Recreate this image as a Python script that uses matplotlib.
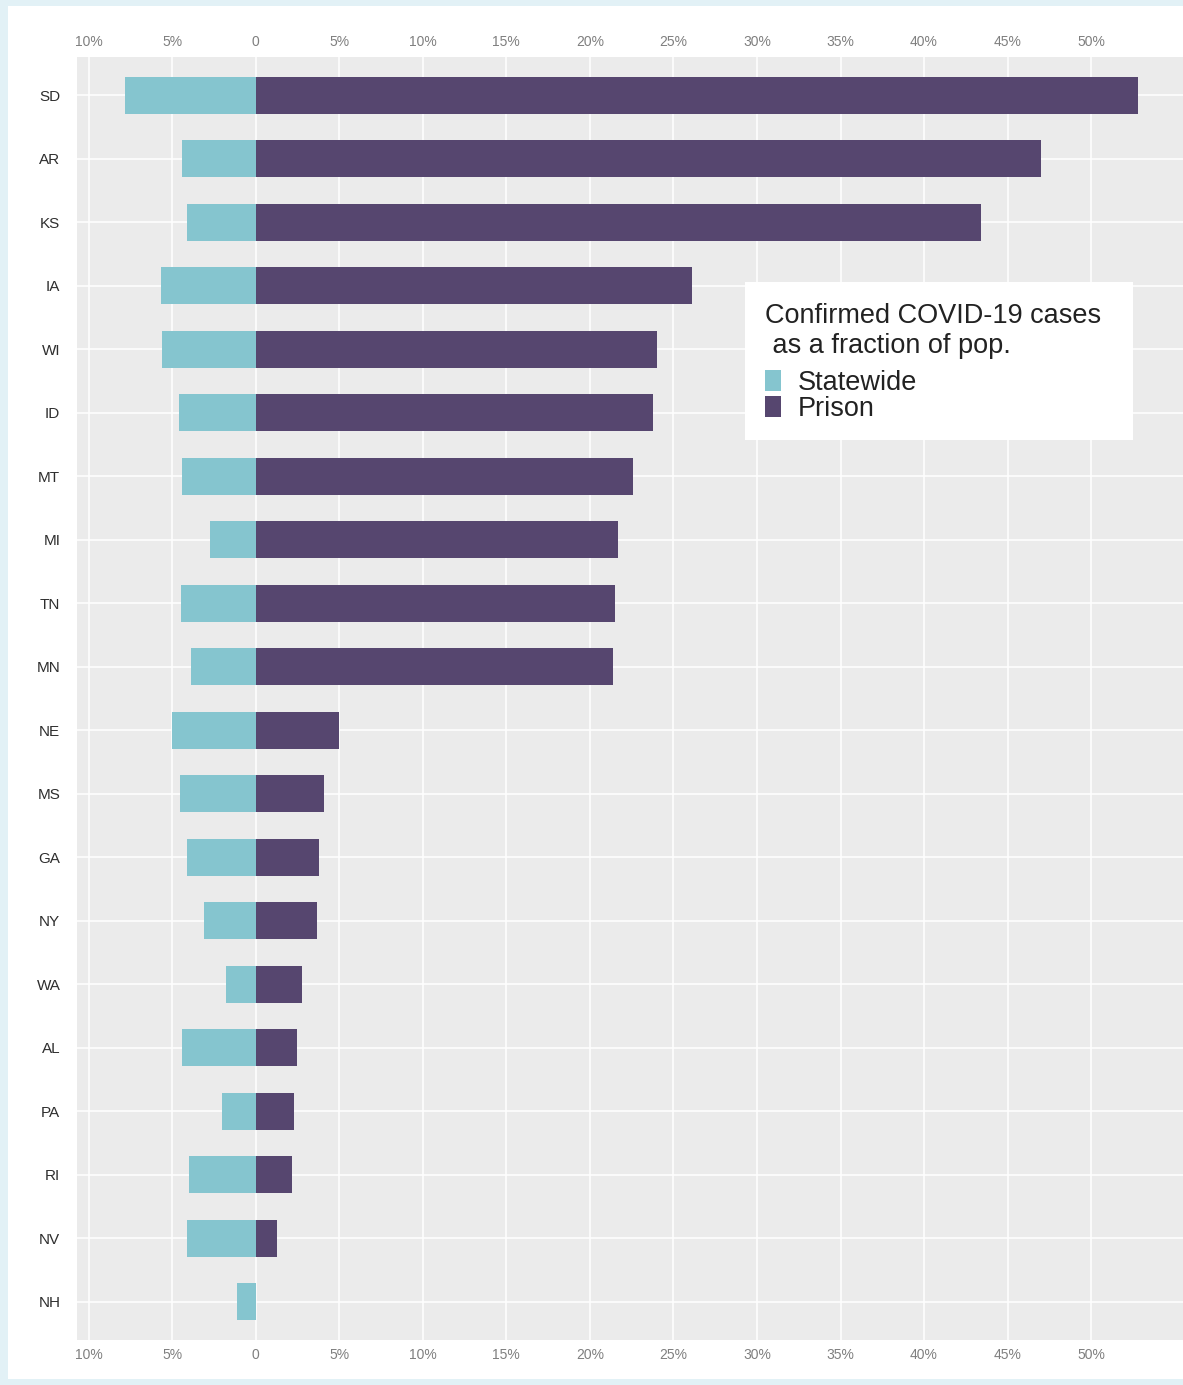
import matplotlib
matplotlib.use("Agg")
import matplotlib.pyplot as plt
from matplotlib.patches import Rectangle, Patch

plt.rcParams['font.family'] = ['Liberation Sans', 'DejaVu Sans']

states = ["SD", "AR", "KS", "IA", "WI", "ID", "MT", "MI", "TN", "MN",
          "NE", "MS", "GA", "NY", "WA", "AL", "PA", "RI", "NV", "NH"]
statewide = [7.8, 4.4, 4.1, 5.7, 5.6, 4.6, 4.4, 2.75, 4.5, 3.9,
             5.0, 4.55, 4.1, 3.1, 1.8, 4.4, 2.0, 4.0, 4.1, 1.1]
prison = [52.8, 47.0, 43.4, 26.1, 24.0, 23.8, 22.6, 21.7, 21.5, 21.4,
          5.0, 4.1, 3.8, 3.65, 2.75, 2.45, 2.3, 2.15, 1.25, 0.0]
xticks = [-10, -5, 0, 5, 10, 15, 20, 25, 30, 35, 40, 45, 50]
xticklabels = ["10%", "5%", "0", "5%", "10%", "15%", "20%", "25%", "30%",
               "35%", "40%", "45%", "50%"]

c_state = "#85c5cf"
c_prison = "#56466f"

W, H = 1183, 1385
fig = plt.figure(figsize=(W / 100, H / 100), dpi=100)
fig.patch.set_facecolor("#e2f1f6")
fig.patches.append(Rectangle((8 / W, 6 / H), 1.0, 1 - 12 / H,
                             transform=fig.transFigure, facecolor="white",
                             edgecolor="none", zorder=-10))

ax = fig.add_axes([77 / W, 1 - 1340 / H, 1 - 77 / W, (1340 - 57) / H])
ax.set_zorder(1)
ax.set_facecolor("#ebebeb")

n = len(states)
ypos = list(range(n))[::-1]
ax.barh(ypos, [-v for v in statewide], height=0.58, color=c_state, zorder=3)
ax.barh(ypos, prison, height=0.58, color=c_prison, zorder=3)

ax.set_xlim(-10.7, 55.5)
ax.set_ylim(-0.6, n - 1 + 0.6)
ax.set_xticks(xticks)
ax.set_xticklabels(xticklabels)
ax.set_yticks(ypos)
ax.set_yticklabels(states)

ax.grid(True, color="white", linewidth=1.1, zorder=1)
ax.set_axisbelow(True)
for s in ax.spines.values():
    s.set_visible(False)
ax.tick_params(axis="x", top=True, labeltop=True, length=0, pad=6,
               labelsize=10, labelcolor="#7f7f7f")
ax.tick_params(axis="y", length=0, pad=12, labelsize=11, labelcolor="#2e2e2e")

# legend background box
box = Rectangle((745 / W, 1 - 440 / H), (1133 - 745) / W, (440 - 282) / H,
                transform=fig.transFigure, facecolor="white",
                edgecolor="none", zorder=4)
fig.patches.append(box)

handles = [Patch(facecolor=c_state, edgecolor="none", label="Statewide"),
           Patch(facecolor=c_prison, edgecolor="none", label="Prison")]
leg = fig.legend(handles=handles,
                 title="Confirmed COVID-19 cases\n as a fraction of pop.",
                 loc="upper left",
                 bbox_to_anchor=(765 / W, 1 - 303 / H),
                 frameon=False,
                 fontsize=19.5, title_fontsize=19.5,
                 handlelength=0.6, handleheight=0.8, handletextpad=0.6,
                 labelspacing=0.0, borderpad=0, borderaxespad=0)
leg.set_zorder(5)
leg._legend_box.align = "left"
leg._legend_box.sep = 8
leg.get_title().set_color("#222222")
leg.get_title().set_linespacing(1.2)
for t in leg.get_texts():
    t.set_color("#222222")

fig.savefig("out.png", dpi=100, facecolor=fig.get_facecolor())
